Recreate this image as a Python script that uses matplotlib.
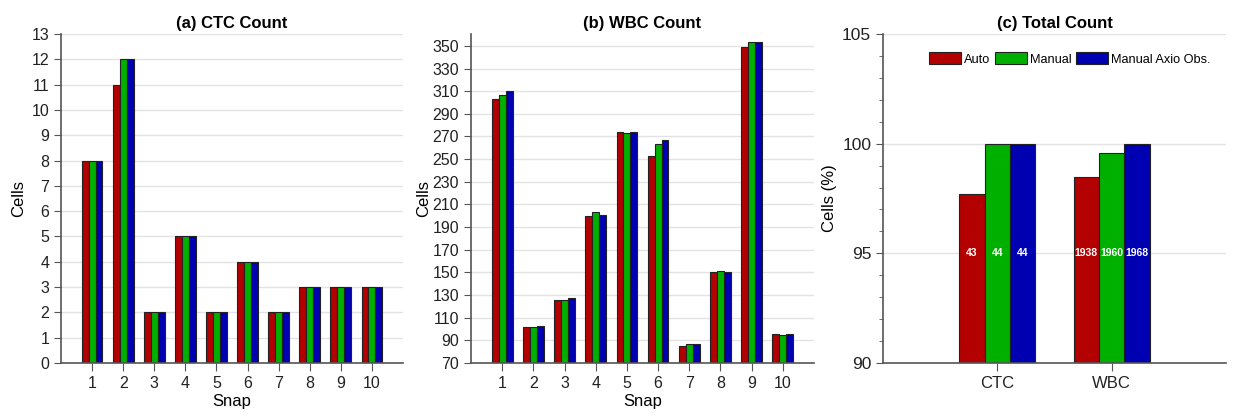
import numpy as np
import matplotlib.pyplot as plt
from matplotlib.ticker import MultipleLocator

plt.rcParams["font.family"] = ["Liberation Sans", "DejaVu Sans"]

# ---- data ----
snaps = np.arange(1, 11)
series_names = ["Auto", "Manual", "Manual Axio Obs."]
colors = ["#b30000", "#00b000", "#0000b3"]

ctc_auto = [8, 11, 2, 5, 2, 4, 2, 3, 3, 3]
ctc_manual = [8, 12, 2, 5, 2, 4, 2, 3, 3, 3]
ctc_axio = [8, 12, 2, 5, 2, 4, 2, 3, 3, 3]

wbc_auto = [303, 102, 126, 200, 274, 253, 85, 150, 349, 96]
wbc_manual = [307, 102, 126, 203, 273, 263, 87, 151, 353, 95]
wbc_axio = [310, 103, 127, 201, 274, 267, 87, 150, 353, 96]

total_cats = ["CTC", "WBC"]
ctc_totals = [sum(ctc_auto), sum(ctc_manual), sum(ctc_axio)]
wbc_totals = [sum(wbc_auto), sum(wbc_manual), sum(wbc_axio)]

W = 0.222
EDGE = "#222222"


def style_axis(ax):
    for s in ["top", "right"]:
        ax.spines[s].set_visible(False)
    for s in ["left", "bottom"]:
        ax.spines[s].set_color("#555555")
        ax.spines[s].set_linewidth(1.2)
    ax.tick_params(axis="both", direction="out", colors="#555555",
                   labelcolor="#222222", labelsize=11.5, length=5)
    ax.tick_params(axis="x", length=6)
    ax.yaxis.grid(True, color="#e3e3e3", linewidth=1)
    ax.set_axisbelow(True)


def grouped(ax, x, groups):
    for i, (vals, c) in enumerate(zip(groups, colors)):
        ax.bar(x + (i - 1) * W, vals, W, color=c, edgecolor=EDGE,
               linewidth=0.8, label=series_names[i])


fig = plt.figure(figsize=(12.33, 4.16), dpi=100)

# (a) CTC
ax1 = fig.add_axes([61 / 1233, 53 / 416, 342 / 1233, 329 / 416])
grouped(ax1, snaps, [ctc_auto, ctc_manual, ctc_axio])
ax1.set_xlim(0, 11)
ax1.set_ylim(0, 13)
ax1.set_xticks(snaps)
ax1.yaxis.set_major_locator(MultipleLocator(1))
style_axis(ax1)
ax1.set_title("(a) CTC Count", fontsize=12, fontweight="bold", pad=4)
ax1.set_ylabel("Cells", fontsize=12)
ax1.set_xlabel("Snap", fontsize=12, labelpad=2)

# (b) WBC
ax2 = fig.add_axes([471 / 1233, 53 / 416, 343 / 1233, 329 / 416])
grouped(ax2, snaps, [wbc_auto, wbc_manual, wbc_axio])
ax2.set_xlim(0, 11)
ax2.set_ylim(70, 360.5)
ax2.set_xticks(snaps)
ax2.set_yticks(np.arange(70, 351, 20))
style_axis(ax2)
ax2.set_title("(b) WBC Count", fontsize=12, fontweight="bold", pad=4)
ax2.set_ylabel("Cells", fontsize=12, labelpad=1)
ax2.set_xlabel("Snap", fontsize=12, labelpad=2)

# (c) Total
ax3 = fig.add_axes([883 / 1233, 53 / 416, 343 / 1233, 329 / 416])
xc = np.arange(1, 3)
pct = []
for j in range(3):
    pct.append([ctc_totals[j] / max(ctc_totals) * 100,
                wbc_totals[j] / max(wbc_totals) * 100])
for i, c in enumerate(colors):
    ax3.bar(xc + (i - 1) * W, pct[i], W, color=c, edgecolor=EDGE,
            linewidth=0.8, label=series_names[i])
    for k, tot in enumerate([ctc_totals[i], wbc_totals[i]]):
        ax3.text(xc[k] + (i - 1) * W, 95, str(tot), color="white",
                 fontsize=7.5, fontweight="bold", ha="center", va="center")
ax3.set_xlim(0, 3)
ax3.set_ylim(90, 105)
ax3.set_xticks(xc)
ax3.set_xticklabels(total_cats)
ax3.yaxis.set_major_locator(MultipleLocator(5))
ax3.yaxis.set_minor_locator(MultipleLocator(1))
style_axis(ax3)
ax3.tick_params(axis="y", which="minor", length=3, colors="#555555")
ax3.tick_params(axis="x", labelsize=12)
ax3.tick_params(axis="y", labelsize=12.5)
ax3.set_title("(c) Total Count", fontsize=12, fontweight="bold", pad=4)
ax3.set_ylabel("Cells (%)", fontsize=12)
ax3.legend(loc="upper left", bbox_to_anchor=(0.12, 0.96), ncol=3,
           frameon=False, fontsize=9.2, handlelength=2.5, handleheight=1.05,
           handletextpad=0.2, columnspacing=0.4, borderaxespad=0)

fig.savefig("out.png", dpi=100)
